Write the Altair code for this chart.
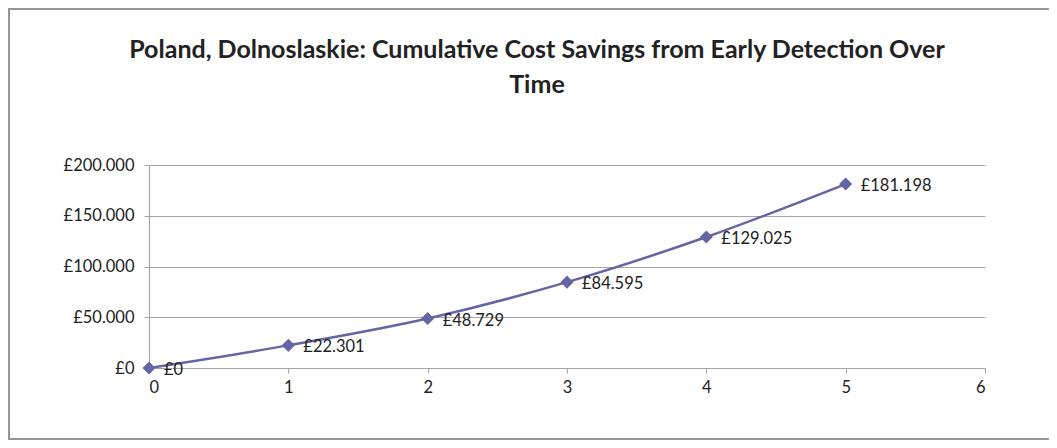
import altair as alt
import pandas as pd

years = [0, 1, 2, 3, 4, 5]
savings = [0, 22301, 48729, 84595, 129025, 181198]
labels = ["£0", "£22.301", "£48.729", "£84.595", "£129.025", "£181.198"]

title_line1 = "Poland, Dolnoslaskie: Cumulative Cost Savings from Early Detection Over"
title_line2 = "Time"

df = pd.DataFrame({"year": years, "savings": savings, "label": labels})

W, H = 836, 203
LINE = "#6565A3"
GRID = "#A6A6A6"
FONT = "Lato"
TXT = "#222222"

x = alt.X("year:Q", scale=alt.Scale(domain=[0, 6], nice=False),
          axis=alt.Axis(values=[0, 1, 2, 3, 4, 5, 6], title=None, grid=False, format="d"))
y = alt.Y("savings:Q", scale=alt.Scale(domain=[0, 200000], nice=False),
          axis=alt.Axis(values=[0, 50000, 100000, 150000, 200000], title=None, grid=True,
                        labelExpr="'£' + replace(format(datum.value, ',d'), /,/g, '.')"))

one = pd.DataFrame({"a": [0]})
border = alt.Chart(one).mark_rect(
    fillOpacity=0, stroke="#959595", strokeWidth=2
).encode(
    x=alt.value(-140), x2=alt.value(W + 200), y=alt.value(-156), y2=alt.value(H + 71)
)

t1 = alt.Chart(one).mark_text(font=FONT, fontSize=25, fontWeight="bold", color=TXT,
                              align="center", baseline="alphabetic").encode(
    x=alt.value(388), y=alt.value(-107), text=alt.value(title_line1))
t2 = alt.Chart(one).mark_text(font=FONT, fontSize=25, fontWeight="bold", color=TXT,
                              align="center", baseline="alphabetic").encode(
    x=alt.value(388), y=alt.value(-72), text=alt.value(title_line2))

base = alt.Chart(df)
line = base.mark_line(color=LINE, strokeWidth=2.5, interpolate="monotone").encode(x=x, y=y)
pts = base.mark_point(shape="diamond", filled=True, color=LINE, size=170, opacity=1).encode(x=x, y=y)
txt = base.mark_text(align="left", baseline="middle", dx=15, dy=2, font=FONT, fontSize=16.5,
                     color=TXT).encode(x=x, y=y, text="label:N")

chart = alt.layer(border, t1, t2, line, pts, txt).properties(
    width=W, height=H,
    autosize=alt.AutoSizeParams(type="none"),
    padding={"left": 141, "top": 157, "right": 64, "bottom": 72},
).configure_view(stroke=None).configure_axis(
    domainColor=GRID, tickColor=GRID, gridColor=GRID, gridWidth=1.2, domainWidth=1.2,
    tickSize=5, labelFont=FONT, labelFontSize=16.5, labelColor=TXT, labelPadding=6,
).configure_axisY(labelPadding=10)

chart.save("out.html", embed_options={"renderer": "svg", "actions": False})
